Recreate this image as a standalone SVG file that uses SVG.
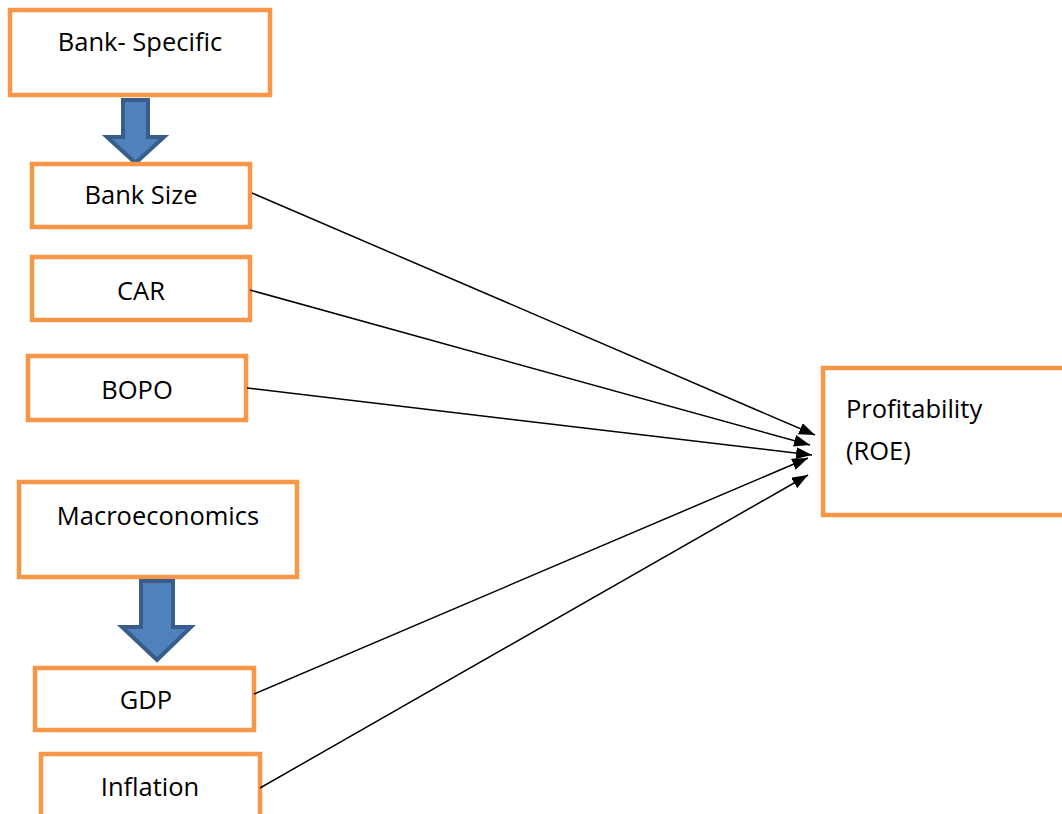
<svg xmlns="http://www.w3.org/2000/svg" width="1062" height="814" viewBox="0 0 1062 814">
<defs>
<style>
.box{fill:#ffffff;stroke:#F79646;stroke-width:4.5;}
.lbl{font-family:"Open Sans","Liberation Sans",sans-serif;font-size:25.5px;fill:#000000;}
.conn{stroke:#000000;stroke-width:1.5;fill:none;marker-end:url(#ah);}
.blk{fill:#4F81BD;stroke:#385D8A;stroke-width:4;}
</style>
<marker id="ah" markerUnits="userSpaceOnUse" markerWidth="18" markerHeight="14" refX="16" refY="6" orient="auto">
<path d="M0,0 L16,6 L0,12 Z" fill="#000000"/>
</marker>
</defs>
<rect width="1062" height="814" fill="#ffffff"/>
<g id="bank-specific">
<rect class="box" x="10" y="10" width="260" height="85"/>
<text class="lbl" x="140" y="51" text-anchor="middle">Bank- Specific</text>
</g>
<g id="arrow-bank">
<path class="blk" d="M123,100 L148,100 L148,137 L164,137 L135.5,163 L107,137 L123,137 Z"/>
</g>
<g id="bank-size">
<rect class="box" x="32" y="164" width="218" height="63"/>
<text class="lbl" x="141" y="204" text-anchor="middle">Bank Size</text>
</g>
<g id="car">
<rect class="box" x="32" y="257" width="218" height="63"/>
<text class="lbl" x="141" y="300" text-anchor="middle">CAR</text>
</g>
<g id="bopo">
<rect class="box" x="28" y="356" width="218" height="64"/>
<text class="lbl" x="137" y="399" text-anchor="middle">BOPO</text>
</g>
<g id="macroeconomics">
<rect class="box" x="19" y="482" width="278" height="95"/>
<text class="lbl" x="158" y="525" text-anchor="middle">Macroeconomics</text>
</g>
<g id="arrow-macro">
<path class="blk" d="M141,581 L173,581 L173,627 L191,627 L157,660 L122,627 L141,627 Z"/>
</g>
<g id="gdp">
<rect class="box" x="35" y="668" width="219" height="62"/>
<text class="lbl" x="146" y="709" text-anchor="middle">GDP</text>
</g>
<g id="inflation">
<rect class="box" x="41" y="754" width="219" height="80"/>
<text class="lbl" x="150" y="796" text-anchor="middle">Inflation</text>
</g>
<g id="profitability">
<rect class="box" x="823" y="368" width="260" height="147"/>
<text class="lbl" x="846" y="418">Profitability</text>
<text class="lbl" x="846" y="460">(ROE)</text>
</g>
<g id="connectors">
<line class="conn" x1="252" y1="193" x2="815" y2="435"/>
<line class="conn" x1="250" y1="290" x2="810" y2="445"/>
<line class="conn" x1="247" y1="388" x2="812" y2="455"/>
<line class="conn" x1="254" y1="694" x2="808" y2="458"/>
<line class="conn" x1="260" y1="788" x2="808" y2="475"/>
</g>
</svg>
